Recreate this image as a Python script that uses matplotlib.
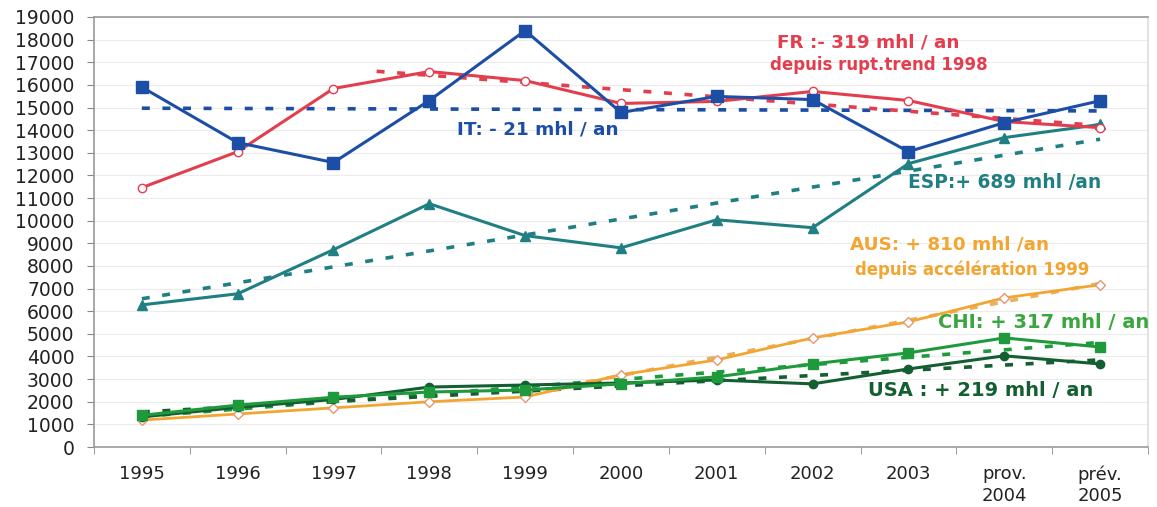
import matplotlib
matplotlib.use("Agg")
import matplotlib.pyplot as plt
import numpy as np

categories = ["1995", "1996", "1997", "1998", "1999", "2000", "2001", "2002", "2003", "prov.\n2004", "prév.\n2005"]

it_vals  = [15900, 13450, 12570, 15310, 18400, 14780, 15490, 15350, 13050, 14330, 15300]
fr_vals  = [11460, 13050, 15840, 16590, 16190, 15180, 15270, 15710, 15310, 14380, 14110]
esp_vals = [6280, 6770, 8720, 10750, 9340, 8800, 10040, 9690, 12520, 13670, 14250]
aus_vals = [1190, 1460, 1730, 2000, 2210, 3190, 3850, 4820, 5530, 6590, 7170]
chi_vals = [1400, 1850, 2200, 2430, 2520, 2790, 3100, 3670, 4160, 4820, 4420]
usa_vals = [1330, 1750, 2100, 2650, 2740, 2830, 2960, 2790, 3450, 4030, 3670]

# trend lines: (start index, end index, start value, end value)
it_trend  = [0, 10, 14970, 14850]
fr_trend  = [2.45, 10, 16600, 14200]
esp_trend = [0, 10, 6550, 13600]
aus_trend = [4, 10, 2350, 7230]
chi_trend = [0, 10, 1350, 4620]
usa_trend = [0, 10, 1550, 3850]

yticks = list(range(0, 19001, 1000))

c_it, c_fr, c_esp = "#1d4ea6", "#e23e4e", "#1f7f82"
c_aus, c_chi, c_usa = "#f2a531", "#1e9a3c", "#145f32"

fig = plt.figure(figsize=(11.57, 5.07), dpi=100)
ax = fig.add_axes([0.0812, 0.1183, 0.9110, 0.8482])
x = np.arange(len(categories))

for v in yticks[1:]:
    ax.axhline(v, color="#ececec", lw=0.8, zorder=0)

def trend(t, c):
    ax.plot([t[0], t[1]], [t[2], t[3]], color=c, lw=2.6, linestyle=(0, (2.2, 3.5)), zorder=2)

trend(it_trend, c_it)
trend(fr_trend, c_fr)
trend(esp_trend, c_esp)
trend(aus_trend, "#e8b060")
trend(chi_trend, c_chi)
trend(usa_trend, c_usa)

ax.plot(x, aus_vals, color=c_aus, lw=2, marker="D", ms=5, mfc="white", mec="#e09a70", zorder=3)
ax.plot(x, usa_vals, color=c_usa, lw=2.2, marker="o", ms=6, mfc=c_usa, mec=c_usa, zorder=4)
ax.plot(x, chi_vals, color=c_chi, lw=2.2, marker="s", ms=7, mfc=c_chi, mec=c_chi, zorder=4)
ax.plot(x, esp_vals, color=c_esp, lw=2.2, marker="^", ms=7, mfc=c_esp, mec=c_esp, zorder=4)
ax.plot(x, fr_vals, color=c_fr, lw=2.2, marker="o", ms=6, mfc="white", mec=c_fr, zorder=4)
ax.plot(x, it_vals, color=c_it, lw=2.2, marker="s", ms=8, mfc=c_it, mec=c_it, zorder=5)

ax.set_xlim(-0.5, len(categories) - 0.5)
ax.set_ylim(0, 19000)
ax.set_yticks(yticks)
ax.set_yticklabels([str(v) for v in yticks], fontsize=13.5, color="#222222", family="DejaVu Sans")
ax.set_xticks(x)
ax.set_xticklabels(categories, fontsize=13, color="#222222", family="DejaVu Sans", linespacing=1.25, va="top")
ax.set_xticks(np.arange(-0.5, len(categories), 1.0), minor=True)
ax.tick_params(axis="x", which="major", length=0, pad=13)
ax.tick_params(axis="x", which="minor", length=5, color="#888888")
ax.tick_params(axis="y", length=5, color="#888888", pad=9)
for s in ax.spines.values():
    s.set_color("#9a9a9a")
    s.set_linewidth(1.2)
ax.spines["right"].set_color("#dddddd")

fb = dict(family="DejaVu Sans", fontweight="bold", ha="left", va="center")
ax.text(6.63, 17880, "FR :- 319 mhl / an", color=c_fr, fontsize=13.2, **fb)
ax.text(6.56, 16860, "depuis rupt.trend 1998", color=c_fr, fontsize=12, **fb)
ax.text(3.29, 14030, "IT: - 21 mhl / an", color=c_it, fontsize=13.2, **fb)
ax.text(8.0, 11680, "ESP:+ 689 mhl /an", color=c_esp, fontsize=13.4, **fb)
ax.text(7.39, 8940, "AUS: + 810 mhl /an", color=c_aus, fontsize=13.2, **fb)
ax.text(7.44, 7830, "depuis accélération 1999", color=c_aus, fontsize=11.9, **fb)
ax.text(8.31, 5490, "CHI: + 317 mhl / an", color="#3aa640", fontsize=14, **fb)
ax.text(7.58, 2480, "USA : + 219 mhl / an", color=c_usa, fontsize=14, **fb)

fig.savefig("out.png", dpi=100)
